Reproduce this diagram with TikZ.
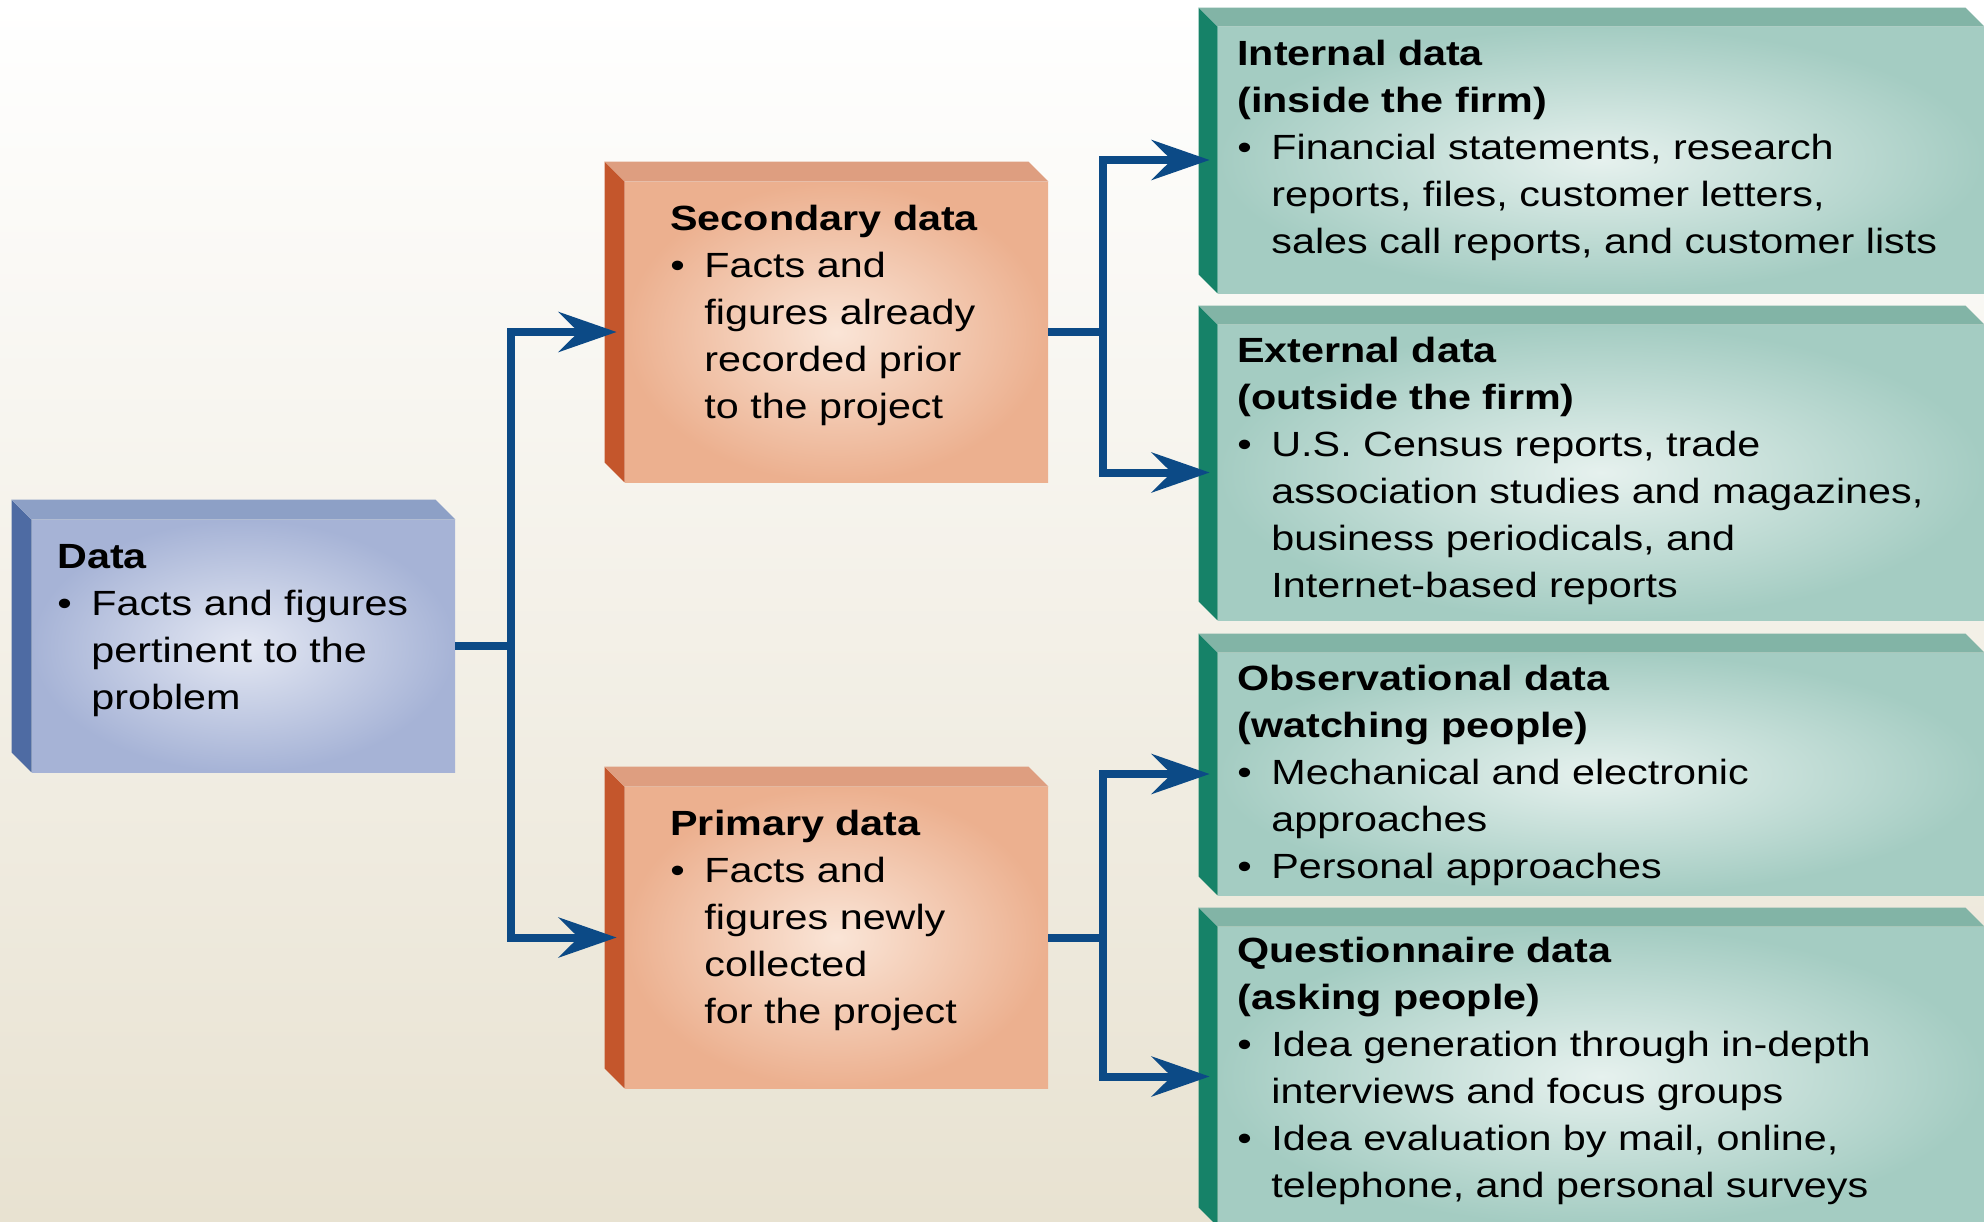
\documentclass[tikz,border=0pt]{standalone}
\usepackage{fontspec}
\setmainfont{Liberation Sans}[FakeStretch=1.18]
\usetikzlibrary{arrows.meta, fit}

\definecolor{lineblue}{RGB}{12,74,134}
\definecolor{bgbeige}{RGB}{232,226,209}
\definecolor{blueO}{RGB}{166,179,214}
\definecolor{blueC}{RGB}{228,232,243}
\definecolor{blueS}{RGB}{78,107,163}
\definecolor{blueT}{RGB}{141,160,198}
\definecolor{orgO}{RGB}{236,176,143}
\definecolor{orgC}{RGB}{250,229,215}
\definecolor{orgS}{RGB}{196,86,44}
\definecolor{orgT}{RGB}{222,158,128}
\definecolor{tealO}{RGB}{164,204,194}
\definecolor{tealC}{RGB}{230,241,238}
\definecolor{tealS}{RGB}{22,130,104}
\definecolor{tealT}{RGB}{130,180,166}

\newcommand{\bl}{\makebox[17pt][l]{\textbullet}}
\newcommand{\ind}{\hspace*{17pt}}

\begin{document}
\begin{tikzpicture}[x=0.5pt, y=-0.5pt,
    face/.style={inner sep=0pt},
    bluebox/.style={face, inner color=blueC, outer color=blueO},
    orgbox/.style={face, inner color=orgC, outer color=orgO},
    tealbox/.style={face, inner color=tealC, outer color=tealO},
    % anchored at the baseline of the last line
    txt/.style={align=left, inner sep=0pt, anchor=base west,
      font=\fontsize{17.5}{23.5}\selectfont},
    link/.style={draw=lineblue, line width=4pt,
      -{Stealth[length=29pt, width=20pt, inset=10pt]}, shorten >=4pt}]

  \useasboundingbox (0,0) rectangle (1984,1221);
  \clip (0,0) rectangle (1984,1221);
  \shade[top color=white, bottom color=bgbeige] (0,0) rectangle (1984,1221);

  % front faces
  \node[bluebox, fit={(32,520) (455,772)}] (data) {};
  \node[orgbox, fit={(625,182) (1048,482)}] (sec) {};
  \node[orgbox, fit={(625,787) (1048,1088)}] (pri) {};
  \node[tealbox, fit={(1218,27) (1984,293)}] (int) {};
  \node[tealbox, fit={(1218,325) (1984,620)}] (ext) {};
  \node[tealbox, fit={(1218,653) (1984,895)}] (obs) {};
  \node[tealbox, fit={(1218,927) (1984,1226)}] (que) {};

  % side and top of each box
  \foreach \n/\s/\t/\d in {data/blueS/blueT/20, sec/orgS/orgT/20, pri/orgS/orgT/20,
      int/tealS/tealT/19, ext/tealS/tealT/19, obs/tealS/tealT/19, que/tealS/tealT/19} {
    \fill[\s] (\n.north west) -- ++(-\d,-\d) -- ([shift={(-\d,-\d)}]\n.south west)
      -- (\n.south west) -- cycle;
    \fill[\t] (\n.north west) -- ++(-\d,-\d) -- ([shift={(-\d,-\d)}]\n.north east)
      -- (\n.north east) -- cycle;
  }

  % texts
  \node[txt] (datatext) at (57,709) {\textbf{Data}\\
    \bl Facts and figures\\ \ind pertinent to the\\ \ind problem};
  \node[txt] (sectext) at (670,418) {\textbf{Secondary data}\\
    \bl Facts and\\ \ind figures already\\ \ind recorded prior\\ \ind to the project};
  \node[txt] (pritext) at (670,1023) {\textbf{Primary data}\\
    \bl Facts and\\ \ind figures newly\\ \ind collected\\ \ind for the project};
  \node[txt] (inttext) at (1237,253) {\textbf{Internal data}\\ \textbf{(inside the firm)}\\
    \bl Financial statements, research\\ \ind reports, files, customer letters,\\
    \ind sales call reports, and customer lists};
  \node[txt] (exttext) at (1237,597) {\textbf{External data}\\ \textbf{(outside the firm)}\\
    \bl U.S. Census reports, trade\\ \ind association studies and magazines,\\
    \ind business periodicals, and\\ \ind Internet-based reports};
  \node[txt] (obstext) at (1237,878) {\textbf{Observational data}\\ \textbf{(watching people)}\\
    \bl Mechanical and electronic\\ \ind approaches\\ \bl Personal approaches};
  \node[txt] (quetext) at (1237,1197) {\textbf{Questionnaire data}\\ \textbf{(asking people)}\\
    \bl Idea generation through in-depth\\ \ind interviews and focus groups\\
    \bl Idea evaluation by mail, online,\\ \ind telephone, and personal surveys};

  % connectors
  \draw[link] (data.east) -- ++(56,0) |- (sec.west);
  \draw[link] (data.east) -- ++(56,0) |- (pri.west);
  \draw[link] (sec.east) -- ++(55,0) |- (int.west);
  \draw[link] (sec.east) -- ++(55,0) |- (ext.west);
  \draw[link] (pri.east) -- ++(55,0) |- (obs.west);
  \draw[link] (pri.east) -- ++(55,0) |- (que.west);
\end{tikzpicture}
\end{document}
